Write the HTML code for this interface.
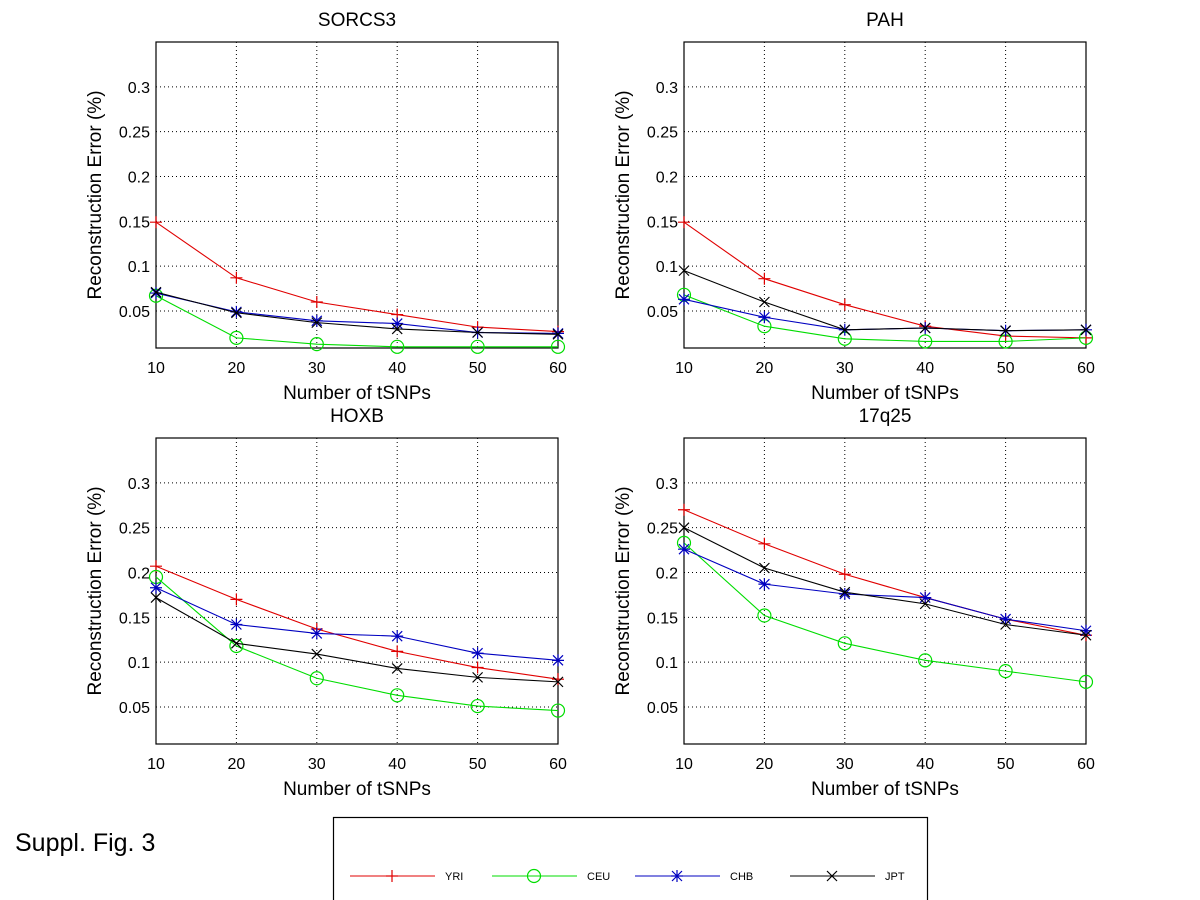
<!DOCTYPE html>
<html><head><meta charset="utf-8"><style>
html,body{margin:0;padding:0;background:#fff;}
svg{display:block;font-family:"Liberation Sans",Arial,sans-serif;}
</style></head><body>
<svg id="fig" width="1200" height="900" viewBox="0 0 1200 900"></svg>
<script>
const xTicks = [10, 20, 30, 40, 50, 60];
const yTicks = [0.05, 0.1, 0.15, 0.2, 0.25, 0.3];
const yTickLabels = ["0.05", "0.1", "0.15", "0.2", "0.25", "0.3"];
const panelTitles = ["SORCS3", "PAH", "HOXB", "17q25"];
const seriesNames = ["YRI", "CEU", "CHB", "JPT"];
const sorcs3YRI = [0.149, 0.087, 0.060, 0.046, 0.032, 0.027];
const sorcs3CEU = [0.067, 0.020, 0.013, 0.010, 0.010, 0.010];
const sorcs3CHB = [0.070, 0.049, 0.039, 0.036, 0.026, 0.025];
const sorcs3JPT = [0.071, 0.048, 0.037, 0.030, 0.026, 0.024];
const pahYRI = [0.149, 0.086, 0.057, 0.033, 0.022, 0.020];
const pahCEU = [0.068, 0.033, 0.019, 0.016, 0.016, 0.020];
const pahCHB = [0.063, 0.043, 0.029, 0.031, 0.028, 0.029];
const pahJPT = [0.095, 0.060, 0.029, 0.031, 0.028, 0.029];
const hoxbYRI = [0.207, 0.170, 0.137, 0.112, 0.094, 0.081];
const hoxbCEU = [0.195, 0.118, 0.082, 0.063, 0.051, 0.046];
const hoxbCHB = [0.183, 0.142, 0.132, 0.129, 0.110, 0.102];
const hoxbJPT = [0.172, 0.121, 0.109, 0.093, 0.083, 0.078];
const q25YRI = [0.270, 0.232, 0.198, 0.172, 0.148, 0.130];
const q25CEU = [0.233, 0.152, 0.121, 0.102, 0.090, 0.078];
const q25CHB = [0.226, 0.187, 0.176, 0.172, 0.148, 0.135];
const q25JPT = [0.250, 0.205, 0.178, 0.165, 0.142, 0.130];

const panelData = [
  [sorcs3YRI, sorcs3CEU, sorcs3CHB, sorcs3JPT],
  [pahYRI, pahCEU, pahCHB, pahJPT],
  [hoxbYRI, hoxbCEU, hoxbCHB, hoxbJPT],
  [q25YRI, q25CEU, q25CHB, q25JPT]
];
const colors = ["#e00000", "#00dd00", "#0000c0", "#000000"];
const markers = ["plus", "circle", "star", "x"];
const panels = [[156, 42], [684, 42], [156, 438], [684, 438]];
const W = 402, H = 306, YMIN = 0.0087, YMAX = 0.35;
const NS = "http://www.w3.org/2000/svg";
const svg = document.getElementById("fig");
function mk(tag, attrs, parent) {
  const e = document.createElementNS(NS, tag);
  for (const k in attrs) e.setAttribute(k, attrs[k]);
  (parent || svg).appendChild(e);
  return e;
}
function marker(g, type, cx, cy, col) {
  const r = 6;
  let p = "";
  if (type === "plus") p = `M${cx-r},${cy}H${cx+r}M${cx},${cy-r}V${cy+r}`;
  else if (type === "x") p = `M${cx-5},${cy-5}L${cx+5},${cy+5}M${cx-5},${cy+5}L${cx+5},${cy-5}`;
  else if (type === "star") p = `M${cx-r},${cy}H${cx+r}M${cx},${cy-r}V${cy+r}M${cx-5},${cy-5}L${cx+5},${cy+5}M${cx-5},${cy+5}L${cx+5},${cy-5}`;
  if (type === "circle") {
    const c = mk("circle", {cx, cy, r: 6.5, fill: "none", stroke: col, "stroke-width": 1.2}, g);
    
    
  } else {
    const m = mk("path", {d: p, stroke: col, "stroke-width": 1.2, fill: "none"}, g);
    
    
  }
}
panels.forEach(([x0, y0], pi) => {
  const g = mk("g", {});
  
  
  const sx = v => x0 + (v - 10) / 50 * W;
  const sy = v => y0 + H - (v - YMIN) / (YMAX - YMIN) * H;
  // grid
  xTicks.slice(1, -1).forEach(t => {
    const l = mk("line", {x1: sx(t), x2: sx(t), y1: y0, y2: y0 + H, stroke: "#000", "stroke-width": 1, "stroke-dasharray": "1,3"}, g);
    
    
  });
  yTicks.forEach(t => {
    const l = mk("line", {x1: x0, x2: x0 + W, y1: sy(t), y2: sy(t), stroke: "#000", "stroke-width": 1, "stroke-dasharray": "1,3"}, g);
    
    
  });
  const box = mk("rect", {x: x0, y: y0, width: W, height: H, fill: "none", stroke: "#000", "stroke-width": 1.2}, g);
  
  
  xTicks.forEach(t => {
    const tx = mk("text", {x: sx(t), y: y0 + H + 25, "text-anchor": "middle", "font-size": 16}, g);
    tx.textContent = t;
    
    
  });
  yTicks.forEach((t, i) => {
    const tx = mk("text", {x: x0 - 6, y: sy(t) + 6, "text-anchor": "end", "font-size": 16}, g);
    tx.textContent = yTickLabels[i];
    
    
  });
  const ti = mk("text", {x: x0 + W / 2, y: y0 - 16, "text-anchor": "middle", "font-size": 19}, g);
  ti.textContent = panelTitles[pi];
  
  
  const xl = mk("text", {x: x0 + W / 2, y: y0 + H + 51, "text-anchor": "middle", "font-size": 19}, g);
  xl.textContent = "Number of tSNPs";
  
  
  const yl = mk("text", {x: 0, y: 0, "text-anchor": "middle", "font-size": 19, transform: `translate(${x0 - 55},${y0 + H / 2}) rotate(-90)`}, g);
  yl.textContent = "Reconstruction Error (%)";
  
  
  panelData[pi].forEach((vals, si) => {
    const sg = mk("g", {}, g);
    
    
    const pts = vals.map((v, i) => sx(xTicks[i]) + "," + sy(v)).join(" ");
    const pl = mk("polyline", {points: pts, fill: "none", stroke: colors[si], "stroke-width": 1.1}, sg);
    
    
    vals.forEach((v, i) => marker(sg, markers[si], sx(xTicks[i]), sy(v), colors[si]));
  });
});
// legend
const lg = mk("g", {});


const lb = mk("rect", {x: 333.5, y: 817.5, width: 594, height: 90, fill: "#fff", stroke: "#000", "stroke-width": 1.2}, lg);


const legX = [350, 492, 635, 790];
seriesNames.forEach((n, i) => {
  const eg = mk("g", {}, lg);
  
  
  const x = legX[i];
  const l = mk("line", {x1: x, x2: x + 85, y1: 876, y2: 876, stroke: colors[i], "stroke-width": 1.1}, eg);
  
  
  marker(eg, markers[i], x + 42, 876, colors[i]);
  const t = mk("text", {x: x + 95, y: 880, "font-size": 11}, eg);
  t.textContent = n;
  
  
});
const cap = mk("text", {x: 15, y: 851, "font-size": 25});
cap.textContent = "Suppl. Fig. 3";


</script>
</body></html>
